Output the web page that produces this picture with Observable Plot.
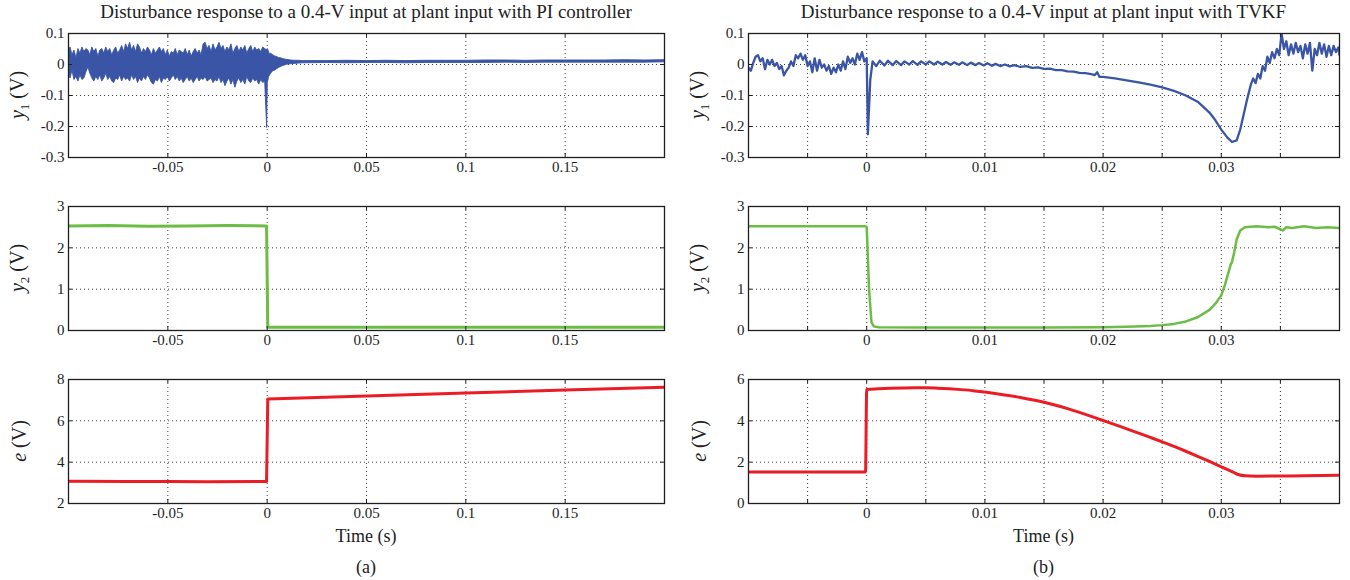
<!DOCTYPE html>
<html><head><meta charset="utf-8">
<script src="https://cdn.jsdelivr.net/npm/d3@7"></script>
<script src="https://cdn.jsdelivr.net/npm/@observablehq/plot@0.6"></script>
<style>
body{margin:0;background:#fff;}
#root{position:relative;width:1350px;height:580px;font-family:"Liberation Serif","Times New Roman",serif;color:#222;overflow:hidden;}
.abs{position:absolute;}
.ctr{transform:translate(-50%,-50%);white-space:nowrap;}
.title{font-size:19px;}
.ylab{font-size:20px;transform:translate(-50%,-50%) rotate(-90deg);white-space:nowrap;}
.xlab{font-size:18px;}
svg{overflow:visible;}
</style></head><body><div id="root"></div>
<script>
// ---------- data ----------
const titles = ["Disturbance response to a 0.4-V input at plant input with PI controller",
                "Disturbance response to a 0.4-V input at plant input with TVKF"];
const panelTags = ["(a)", "(b)"];
const xTitle = "Time (s)";

const leftXDomain = [-0.1, 0.2];
const rightXDomain = [-0.01, 0.04];
const leftXTicks = [-0.05, 0, 0.05, 0.1, 0.15];
const rightXGrid = [-0.005, 0, 0.005, 0.01, 0.015, 0.02, 0.025, 0.03, 0.035];
const rightXLabels = [0, 0.01, 0.02, 0.03];

const y1Ticks = [-0.3, -0.2, -0.1, 0, 0.1];
const y2Ticks = [0, 1, 2, 3];
const eLeftTicks = [2, 4, 6, 8];
const eRightTicks = [0, 2, 4, 6];

// PI controller, y1: noisy band [t, low, high]
const piY1Band = [
[-0.100,-0.03,0.04],[-0.099,-0.045,0.055],[-0.098,-0.02,0.03],[-0.097,-0.05,0.045],[-0.096,-0.04,0.02],
[-0.095,-0.055,0.05],[-0.094,-0.035,0.035],[-0.093,-0.05,0.055],[-0.092,-0.045,0.04],[-0.091,-0.025,0.05],
[-0.090,-0.01,0.045],[-0.089,-0.03,0.03],[-0.088,-0.045,0.055],[-0.087,-0.055,0.04],[-0.086,-0.04,0.05],
[-0.085,-0.05,0.025],[-0.084,-0.035,0.045],[-0.083,-0.055,0.05],[-0.082,-0.045,0.035],[-0.081,-0.03,0.055],
[-0.080,-0.05,0.04],[-0.079,-0.04,0.05],[-0.078,-0.055,0.03],[-0.077,-0.06,0.045],[-0.076,-0.045,0.055],
[-0.075,-0.05,0.035],[-0.074,-0.035,0.045],[-0.073,-0.055,0.06],[-0.072,-0.04,0.04],[-0.071,-0.05,0.065],
[-0.070,-0.045,0.05],[-0.069,-0.055,0.07],[-0.068,-0.035,0.045],[-0.067,-0.05,0.06],[-0.066,-0.04,0.04],
[-0.065,-0.06,0.065],[-0.064,-0.045,0.055],[-0.063,-0.055,0.035],[-0.062,-0.04,0.05],[-0.061,-0.05,0.04],
[-0.060,-0.035,0.055],[-0.059,-0.045,0.045],[-0.058,-0.06,0.03],[-0.057,-0.065,0.05],[-0.056,-0.05,0.035],
[-0.055,-0.055,0.045],[-0.054,-0.04,0.055],[-0.053,-0.06,0.04],[-0.052,-0.045,0.05],[-0.051,-0.05,0.03],
[-0.050,-0.04,0.045],[-0.049,-0.055,0.025],[-0.048,-0.045,0.04],[-0.047,-0.035,0.035],[-0.046,-0.05,0.05],
[-0.045,-0.04,0.03],[-0.044,-0.055,0.045],[-0.043,-0.045,0.04],[-0.042,-0.06,0.035],[-0.041,-0.05,0.05],
[-0.040,-0.04,0.03],[-0.039,-0.055,0.045],[-0.038,-0.045,0.025],[-0.037,-0.06,0.04],[-0.036,-0.05,0.05],
[-0.035,-0.04,0.035],[-0.034,-0.055,0.045],[-0.033,-0.045,0.03],[-0.032,-0.05,0.065],[-0.031,-0.04,0.07],
[-0.030,-0.055,0.05],[-0.029,-0.05,0.06],[-0.028,-0.045,0.04],[-0.027,-0.06,0.065],[-0.026,-0.05,0.045],
[-0.025,-0.055,0.055],[-0.024,-0.04,0.07],[-0.023,-0.06,0.05],[-0.022,-0.05,0.06],[-0.021,-0.07,0.04],
[-0.020,-0.055,0.055],[-0.019,-0.045,0.045],[-0.018,-0.065,0.065],[-0.017,-0.05,0.035],[-0.016,-0.075,0.05],
[-0.015,-0.055,0.06],[-0.014,-0.045,0.04],[-0.013,-0.06,0.055],[-0.012,-0.05,0.045],[-0.011,-0.065,0.06],
[-0.010,-0.04,0.035],[-0.009,-0.055,0.05],[-0.008,-0.06,0.06],[-0.007,-0.045,0.04],[-0.006,-0.055,0.055],
[-0.005,-0.05,0.045],[-0.004,-0.065,0.05],[-0.003,-0.05,0.04],[-0.002,-0.06,0.055],[-0.001,-0.055,0.05],
[0.000,-0.205,0.045],
[0.0003,-0.06,0.05],[0.001,-0.04,0.04],[0.0015,-0.035,0.03],[0.002,-0.03,0.035],[0.003,-0.022,0.03],
[0.004,-0.02,0.026],[0.005,-0.015,0.024],[0.006,-0.011,0.021],[0.007,-0.008,0.02],[0.008,-0.005,0.018],
[0.009,-0.003,0.016],[0.010,-0.001,0.015],[0.012,0.001,0.013],[0.014,0.002,0.012],[0.016,0.003,0.012],
[0.018,0.004,0.011],[0.02,0.004,0.011],[0.03,0.005,0.011],[0.04,0.004,0.012],[0.05,0.005,0.011],
[0.06,0.005,0.012],[0.07,0.004,0.011],[0.08,0.005,0.012],[0.09,0.005,0.012],[0.1,0.005,0.012],
[0.11,0.005,0.013],[0.12,0.006,0.013],[0.13,0.005,0.012],[0.14,0.006,0.013],[0.15,0.006,0.013],
[0.16,0.006,0.013],[0.17,0.006,0.013],[0.18,0.006,0.014],[0.19,0.006,0.013],[0.2,0.007,0.014]
];

// PI controller, y2 [t, V]
const piY2 = [[-0.1,2.53],[-0.08,2.54],[-0.06,2.52],[-0.04,2.53],[-0.02,2.54],[-0.0003,2.53],[0.0003,0.08],[0.05,0.08],[0.1,0.08],[0.15,0.08],[0.2,0.08]];

// PI controller, e [t, V]
const piE = [[-0.1,3.08],[-0.07,3.06],[-0.05,3.06],[-0.03,3.05],[-0.0003,3.07],[0.0003,7.06],[0.05,7.2],[0.1,7.35],[0.15,7.49],[0.2,7.63]];

// TVKF, y1 [t, V]
const tvkfY1 = [
[-0.0100,-0.01],[-0.0098,-0.02],[-0.0096,0.005],[-0.0094,0.025],[-0.0092,0.03],[-0.0090,0.01],[-0.0088,0.02],
[-0.0086,-0.015],[-0.0084,0.015],[-0.0082,0.0],[-0.0080,0.015],[-0.0078,-0.005],[-0.0076,0.005],[-0.0074,-0.015],
[-0.0072,-0.005],[-0.0070,-0.035],[-0.0068,-0.02],[-0.0066,-0.01],[-0.0064,0.01],[-0.0062,-0.005],[-0.0060,0.03],
[-0.0058,0.02],[-0.0056,0.035],[-0.0054,0.015],[-0.0052,0.03],[-0.0050,-0.005],[-0.0048,0.01],[-0.0046,-0.025],
[-0.0044,0.02],[-0.0042,-0.02],[-0.0040,0.015],[-0.0038,-0.01],[-0.0036,0.0],[-0.0034,-0.02],[-0.0032,-0.005],
[-0.0030,-0.03],[-0.0028,-0.01],[-0.0026,-0.025],[-0.0024,0.0],[-0.0022,-0.02],[-0.0020,0.01],[-0.0018,-0.015],
[-0.0016,0.025],[-0.0014,0.005],[-0.0012,0.02],[-0.0010,0.0],[-0.0008,0.035],[-0.0006,0.015],[-0.0004,0.04],
[-0.0002,0.01],[0.0000,0.02],[0.0001,-0.225],[0.0003,-0.05],[0.0005,0.01],
[0.0008,-0.005],[0.0011,0.012],[0.0015,-0.003],[0.0018,0.012],[0.0022,-0.002],[0.0025,0.011],[0.0029,-0.002],
[0.0032,0.01],[0.0036,0.0],[0.0039,0.011],[0.0043,-0.001],[0.0046,0.01],[0.0050,0.0],[0.0053,0.01],[0.0057,0.0],
[0.0060,0.009],[0.0064,0.0],[0.0067,0.008],[0.0071,-0.001],[0.0074,0.007],[0.0078,-0.001],[0.0081,0.007],
[0.0085,-0.002],[0.0088,0.006],[0.0092,-0.002],[0.0095,0.005],[0.0099,-0.003],[0.0102,0.004],[0.0106,-0.004],
[0.0109,0.002],[0.0113,-0.005],[0.0117,0.0],[0.0121,-0.006],[0.0125,-0.002],[0.0130,-0.008],[0.0135,-0.005],
[0.0140,-0.011],[0.0145,-0.009],[0.0150,-0.014],[0.0155,-0.013],[0.0160,-0.018],[0.0165,-0.018],[0.0170,-0.022],
[0.0175,-0.023],[0.0180,-0.027],[0.0185,-0.028],[0.0190,-0.031],[0.0193,-0.034],[0.0195,-0.025],[0.0197,-0.04],
[0.0200,-0.04],[0.0210,-0.045],[0.0220,-0.051],[0.0230,-0.058],[0.0240,-0.065],[0.0250,-0.074],[0.0260,-0.085],
[0.0270,-0.1],[0.0280,-0.12],[0.0290,-0.155],[0.0295,-0.18],[0.0300,-0.21],[0.0305,-0.235],[0.0309,-0.25],
[0.0313,-0.245],[0.0316,-0.21],[0.0319,-0.16],[0.0322,-0.11],[0.0325,-0.065],[0.0327,-0.045],[0.0329,-0.06],
[0.0331,-0.03],[0.0333,-0.045],[0.0335,-0.005],[0.0337,-0.02],[0.0339,0.025],[0.0341,0.005],[0.0343,0.04],
[0.0345,0.02],[0.0347,0.05],[0.0349,0.03],[0.0351,0.1],[0.0353,0.05],[0.0355,0.075],[0.0357,0.03],[0.0359,0.065],
[0.0361,0.035],[0.0363,0.07],[0.0365,0.04],[0.0367,0.06],[0.0369,0.02],[0.0371,0.065],[0.0373,0.035],[0.0375,0.07],
[0.0377,-0.02],[0.0379,0.05],[0.0381,0.03],[0.0383,0.07],[0.0385,0.035],[0.0387,0.065],[0.0389,0.025],[0.0391,0.06],
[0.0393,0.03],[0.0395,0.06],[0.0397,0.04],[0.0399,0.055],[0.0400,0.03]
];

// TVKF, y2 [t, V]
const tvkfY2 = [
[-0.01,2.52],[-0.005,2.52],[-0.0001,2.52],[0.0,2.5],[0.0002,1.0],[0.0004,0.2],[0.0006,0.1],[0.001,0.08],
[0.005,0.07],[0.01,0.07],[0.015,0.07],[0.02,0.08],[0.022,0.09],[0.024,0.11],[0.025,0.13],[0.026,0.16],
[0.027,0.22],[0.028,0.32],[0.029,0.5],[0.0295,0.65],[0.030,0.85],[0.0303,1.1],[0.0306,1.4],[0.0308,1.6],
[0.0309,1.65],[0.0311,1.9],[0.0313,2.2],[0.0316,2.42],[0.032,2.5],[0.033,2.52],[0.034,2.5],[0.0345,2.51],
[0.035,2.45],[0.0352,2.42],[0.0355,2.5],[0.036,2.48],[0.037,2.52],[0.038,2.48],[0.039,2.5],[0.040,2.48]
];

// TVKF, e [t, V]
const tvkfE = [
[-0.01,1.52],[-0.0001,1.52],[0.0,5.52],[0.001,5.55],[0.002,5.575],[0.003,5.59],[0.004,5.6],[0.005,5.6],
[0.006,5.58],[0.007,5.55],[0.008,5.51],[0.009,5.46],[0.010,5.39],[0.011,5.315],[0.012,5.23],[0.013,5.133],
[0.014,5.023],[0.015,4.898],[0.016,4.753],[0.017,4.588],[0.018,4.408],[0.019,4.218],[0.020,4.018],[0.021,3.818],
[0.022,3.613],[0.023,3.406],[0.024,3.196],[0.025,2.983],[0.026,2.763],[0.027,2.528],[0.028,2.283],[0.029,2.033],
[0.030,1.778],[0.031,1.518],[0.0315,1.39],[0.032,1.34],[0.033,1.32],[0.035,1.33],[0.037,1.34],[0.040,1.37]
];

// ---------- styling / layout ----------
const BLUE = "#3a55a5", GREEN = "#6cbd45", RED = "#ec1c24", INK = "#1e1e1e";
const FONT = '"Liberation Serif","Times New Roman",serif';
const H = 124, MT = 6, MB = 26;
const rowTops = [33, 206, 379];
const cols = [
  {left: 0, width: 680, ml: 68, mr: 16, xDomain: leftXDomain, xGrid: leftXTicks, xLabels: leftXTicks},
  {left: 680, width: 670, ml: 68, mr: 11, xDomain: rightXDomain, xGrid: rightXGrid, xLabels: rightXLabels}
];

function panel(col, yDomain, yTicks, dataMarks) {
  const innerW = col.width - col.ml - col.mr;
  const dots = {stroke: "#444", strokeOpacity: 1, strokeWidth: 1, strokeDasharray: "1,3"};
  return Plot.plot({
    width: col.width, height: H + MT + MB,
    marginLeft: col.ml, marginRight: col.mr, marginTop: MT, marginBottom: MB,
    style: {fontFamily: FONT, fontSize: "15px", color: INK, background: "transparent"},
    x: {domain: col.xDomain},
    y: {domain: yDomain},
    marks: [
      Plot.gridX(col.xGrid, dots),
      Plot.gridY(yTicks.slice(1, -1), dots),
      ...dataMarks,
      Plot.ruleX(col.xGrid, {insetTop: H - 4, stroke: INK}),
      Plot.ruleX(col.xGrid, {insetBottom: H - 4, stroke: INK}),
      Plot.ruleY(yTicks, {insetRight: innerW - 4, stroke: INK}),
      Plot.ruleY(yTicks, {insetLeft: innerW - 4, stroke: INK}),
      Plot.frame({stroke: INK, strokeWidth: 1.3}),
      Plot.axisX(col.xLabels, {tickSize: 0, tickPadding: 4, tickFormat: d => String(d), label: null, fontSize: 15}),
      Plot.axisY(yTicks, {tickSize: 0, tickPadding: 4, tickFormat: d => String(d), label: null, fontSize: 15})
    ]
  });
}

const root = document.getElementById("root");
function place(node, left, top) {
  const d = document.createElement("div");
  d.className = "abs";
  d.style.left = left + "px"; d.style.top = top + "px";
  d.appendChild(node);
  root.appendChild(d);
}
function label(html, cls, cx, cy) {
  const d = document.createElement("div");
  d.className = "abs " + cls;
  d.style.left = cx + "px"; d.style.top = cy + "px";
  d.innerHTML = html;
  root.appendChild(d);
}

const px = d => d[0], py = d => d[1];
const panels = [
  // left column
  [cols[0], 0, [-0.3, 0.1], y1Ticks, [
    Plot.areaY(piY1Band, {x: px, y1: d => d[1], y2: d => d[2], fill: BLUE, stroke: BLUE, strokeWidth: 0.9, clip: true})
  ]],
  [cols[0], 1, [0, 3], y2Ticks, [
    Plot.line(piY2, {x: px, y: py, stroke: GREEN, strokeWidth: 3, clip: true})
  ]],
  [cols[0], 2, [2, 8], eLeftTicks, [
    Plot.line(piE, {x: px, y: py, stroke: RED, strokeWidth: 3, clip: true})
  ]],
  // right column
  [cols[1], 0, [-0.3, 0.1], y1Ticks, [
    Plot.line(tvkfY1, {x: px, y: py, stroke: BLUE, strokeWidth: 2.3, clip: true})
  ]],
  [cols[1], 1, [0, 3], y2Ticks, [
    Plot.line(tvkfY2, {x: px, y: py, stroke: GREEN, strokeWidth: 2.5, clip: true})
  ]],
  [cols[1], 2, [0, 6], eRightTicks, [
    Plot.line(tvkfE, {x: px, y: py, stroke: RED, strokeWidth: 3, curve: "monotone-x", clip: true})
  ]]
];
for (const [col, row, yDomain, yTicks, marks] of panels) {
  place(panel(col, yDomain, yTicks, marks), col.left, rowTops[row] - MT);
}

const ylabs = ['<i>y</i><sub style="font-size:13px">1</sub> (V)', '<i>y</i><sub style="font-size:13px">2</sub> (V)', '<i>e</i> (V)'];
cols.forEach((col, i) => {
  const cx = col.left + col.ml + (col.width - col.ml - col.mr) / 2;
  label(titles[i], "ctr title", cx, 12);
  label(xTitle, "ctr xlab", cx, 536);
  label(panelTags[i], "ctr xlab", cx, 567);
  ylabs.forEach((t, r) => label(t, "ylab", col.left + 19, rowTops[r] + H / 2));
});
</script></body></html>
